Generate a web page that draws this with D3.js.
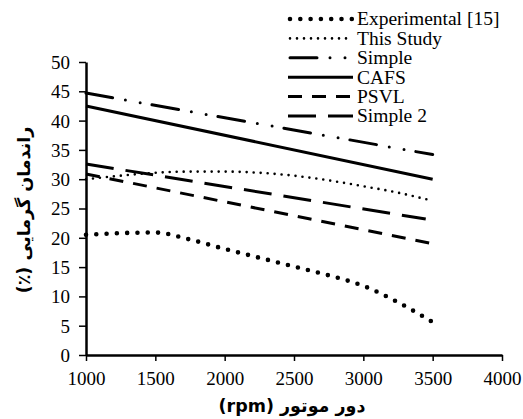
<!DOCTYPE html>
<html>
<head>
<meta charset="utf-8">
<script src="https://d3js.org/d3.v7.min.js"></script>
<style>
  body { margin: 0; background: #fff; }
  .serif, .axis text { font-family: "Liberation Serif", "Times New Roman", serif; }
  .fa { font-family: "DejaVu Sans", sans-serif; font-weight: bold; }
</style>
</head>
<body>
<svg class="chart"></svg>
<script>
// data
var rpm = [1000, 1250, 1500, 1750, 2000, 2250, 2500, 2750, 3000, 3250, 3500];
var experimental = [20.5, 20.8, 20.9, 19.7, 18.1, 16.6, 15.1, 13.6, 11.8, 9.0, 5.6];
var thisStudy   = [30.0, 30.6, 31.1, 31.3, 31.3, 31.1, 30.6, 29.8, 28.8, 27.7, 26.3];
var simpleRpm = [1000, 3500];
var simple   = [44.7, 34.2];
var cafs     = [42.5, 30.0];
var psvl     = [30.9, 19.0];
var simple2Rpm = [1000, 3450];
var simple2  = [32.6, 23.2];
var xTicks = [1000, 1500, 2000, 2500, 3000, 3500, 4000];
var yTicks = [0, 5, 10, 15, 20, 25, 30, 35, 40, 45, 50];

var W = 523, H = 419;
var margin = {top: 62, right: 21, bottom: 64, left: 86},
    width = W - margin.left - margin.right,
    height = H - margin.top - margin.bottom;

var svg = d3.select(".chart").attr("width", W).attr("height", H);
var chart = svg.append("g")
  .attr("transform", "translate(" + margin.left + "," + margin.top + ")");

var x = d3.scaleLinear().domain([1000, 4000]).range([0, width]);
var y = d3.scaleLinear().domain([0, 50]).range([height, 0]);

var xAxis = d3.axisBottom(x).tickValues(xTicks).tickSize(6).tickSizeOuter(0).tickFormat(d3.format("d"));
var yAxis = d3.axisLeft(y).tickValues(yTicks).tickSize(7).tickSizeOuter(0);

var gx = chart.append("g")
  .attr("class", "axis")
  .attr("transform", "translate(0," + height + ")")
  .call(xAxis);
var gy = chart.append("g").attr("class", "axis").call(yAxis);

[gx, gy].forEach(function(g) {
  g.attr("font-family", null).attr("font-size", 19);
  g.select(".domain").attr("stroke", "#000").attr("stroke-width", 2.5);
  g.selectAll(".tick line").attr("stroke", "#000").attr("stroke-width", 1.5);
  g.selectAll(".tick text").attr("fill", "#000");
});
gx.selectAll(".tick text").attr("y", 13).attr("dy", "0.9em");
gy.selectAll(".tick text").attr("x", -16).attr("dy", "0.34em");

var series = [
  {name: "Experimental [15]", xs: rpm, ys: experimental, dash: "0,10.3", w: 4.6, cap: "round"},
  {name: "This Study", xs: rpm, ys: thisStudy, dash: "0,7", w: 2.6, cap: "round"},
  {name: "Simple", xs: simpleRpm, ys: simple, dash: "27,13,0,15,0,12", w: 3, cap: "round"},
  {name: "CAFS", xs: simpleRpm, ys: cafs, dash: null, w: 3, cap: "butt"},
  {name: "PSVL", xs: simpleRpm, ys: psvl, dash: "14,10", w: 3, cap: "butt"},
  {name: "Simple 2", xs: simple2Rpm, ys: simple2, dash: "28,12", w: 3, cap: "butt"}
];

var line = d3.line()
  .x(function(d) { return x(d[0]); })
  .y(function(d) { return y(d[1]); })
  .curve(d3.curveMonotoneX);

series.forEach(function(s) {
  chart.append("path")
    .datum(s.xs.map(function(v, i) { return [v, s.ys[i]]; }))
    .attr("d", line)
    .attr("fill", "none")
    .attr("stroke", "#000")
    .attr("stroke-width", s.w)
    .attr("stroke-linecap", s.cap)
    .attr("stroke-dasharray", s.dash);
});

// legend
var legend = svg.append("g").attr("transform", "translate(288,19)");
var row = legend.selectAll("g").data(series).enter().append("g")
  .attr("transform", function(d, i) { return "translate(0," + i * 19.4 + ")"; });
row.append("line")
  .attr("x1", function(d) { return d.cap === "round" ? 2 : 0; })
  .attr("x2", 65)
  .attr("stroke", "#000")
  .attr("stroke-width", function(d) { return d.w; })
  .attr("stroke-linecap", function(d) { return d.cap; })
  .attr("stroke-dasharray", function(d) { return d.dash; });
row.append("text")
  .attr("class", "serif")
  .attr("x", 69)
  .attr("dy", "0.33em")
  .style("font-size", "19.5px")
  .text(function(d) { return d.name; });

// axis titles
svg.append("text")
  .attr("class", "fa")
  .attr("direction", "rtl")
  .attr("x", 292).attr("y", 412)
  .attr("text-anchor", "middle")
  .style("font-size", "17.5px")
  .text("دور موتور (rpm)");

svg.append("text")
  .attr("class", "fa")
  .attr("direction", "rtl")
  .attr("transform", "translate(30,210) rotate(-90)")
  .attr("text-anchor", "middle")
  .style("font-size", "17.5px")
  .text("راندمان گرمایی (٪)");
</script>
</body>
</html>
